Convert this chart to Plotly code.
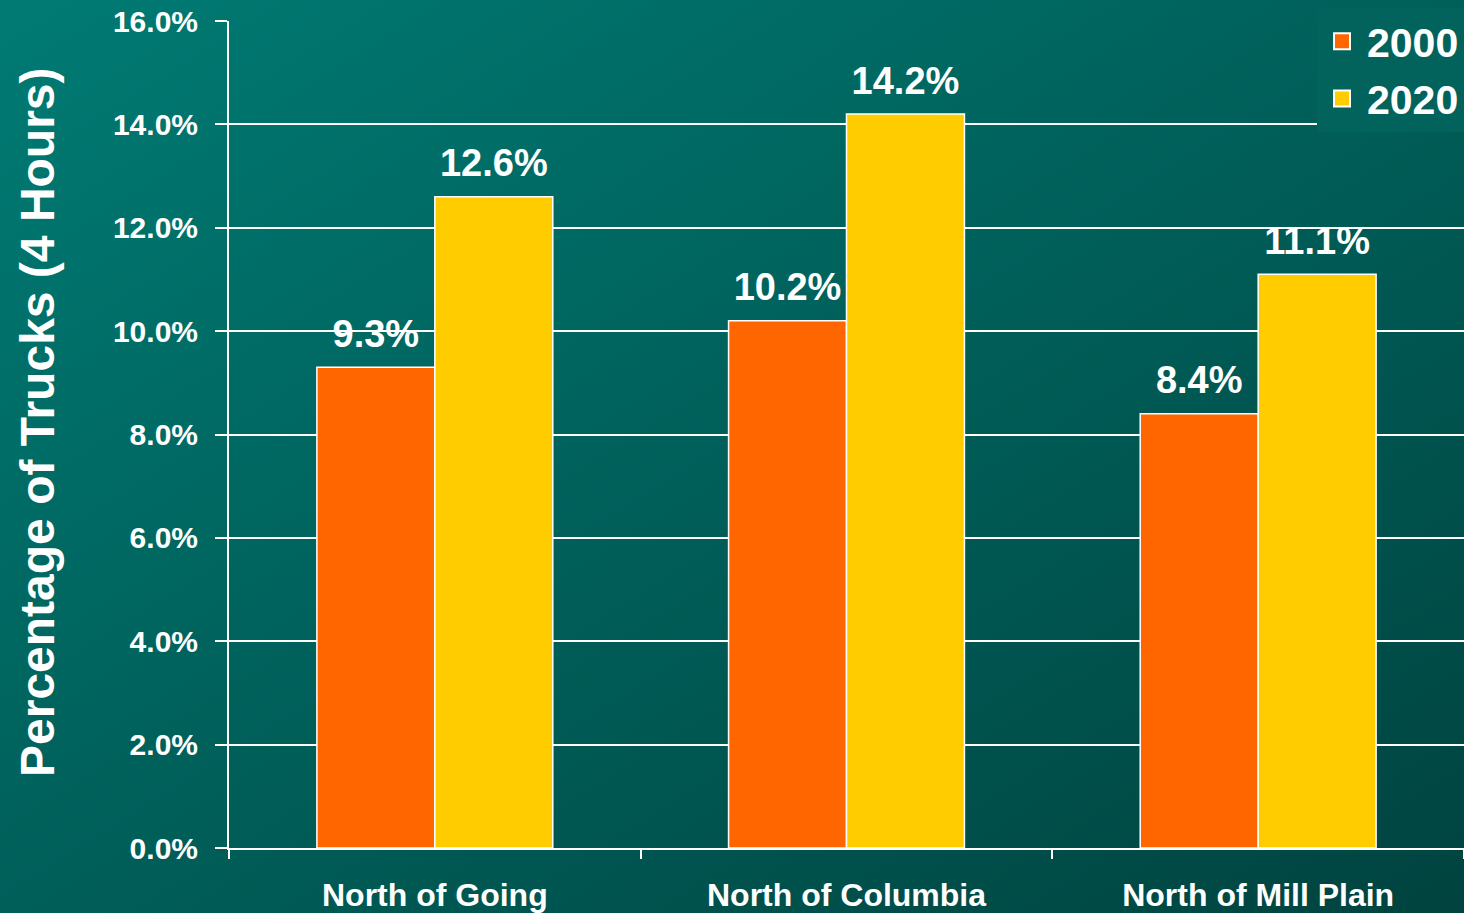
import plotly.graph_objects as go

categories = ["North of Going", "North of Columbia", "North of Mill Plain"]
series_names = ["2000", "2020"]
values_2000 = [0.093, 0.102, 0.084]
values_2020 = [0.126, 0.142, 0.111]
y_ticks = [0.0, 0.02, 0.04, 0.06, 0.08, 0.10, 0.12, 0.14, 0.16]
y_title = "Percentage of Trucks (4 Hours)"

W, H = 1464, 913
L, R, T, B = 229, 0, 21, 65
FONT = "Liberation Sans, Arial, sans-serif"

colors = {"2000": "#FF6600", "2020": "#FFCC00"}

fig = go.Figure()
for name, vals in zip(series_names, [values_2000, values_2020]):
    fig.add_trace(go.Bar(
        x=categories, y=vals, name=name, showlegend=False, legendgroup=name,
        offsetgroup=name, alignmentgroup="a",
        marker=dict(color=colors[name], line=dict(color="white", width=1.5)),
        hovertemplate="%{x}<br>" + name + ": %{y:.1%}<extra></extra>",
    ))
# value labels above bars
for name, vals in zip(series_names, [values_2000, values_2020]):
    fig.add_trace(go.Scatter(
        x=categories, y=vals, mode="markers+text", showlegend=False,
        offsetgroup=name, alignmentgroup="a",
        marker=dict(size=16, opacity=0),
        texttemplate="%{y:.1%}", textposition="top center",
        textfont=dict(family=FONT, size=38, color="white", weight="bold"),
        cliponaxis=False, hoverinfo="skip",
    ))
# legend entries with square swatches
for name in series_names:
    fig.add_trace(go.Scatter(
        x=[None], y=[None], mode="markers", name=name, legendgroup=name,
        marker=dict(symbol="square", size=24, color=colors[name],
                    line=dict(color="white", width=2)),
    ))

svg = ("data:image/svg+xml;utf8,"
       "<svg xmlns='http://www.w3.org/2000/svg' width='1464' height='913' preserveAspectRatio='none'>"
       "<defs><linearGradient id='g' x1='0' y1='0' x2='1' y2='1'>"
       "<stop offset='0' stop-color='%23007B74'/><stop offset='1' stop-color='%2300433F'/>"
       "</linearGradient></defs><rect width='1464' height='913' fill='url(%23g)'/></svg>")

pw = W - L - R
ph = H - T - B
fig.add_layout_image(dict(
    source=svg, xref="paper", yref="paper",
    x=-L / pw, y=1 + T / ph, sizex=W / pw, sizey=H / ph,
    xanchor="left", yanchor="top", sizing="stretch", layer="below",
))

fig.update_layout(
    width=W, height=H,
    margin=dict(l=L, r=R, t=T, b=B, autoexpand=False),
    paper_bgcolor="#006560", plot_bgcolor="rgba(0,0,0,0)",
    font=dict(family=FONT, color="white", weight="bold"),
    barmode="group", bargap=0.427, bargroupgap=0,
    scattermode="group", scattergap=0.427,
    showlegend=True,
    legend=dict(
        x=1, xanchor="right", y=1 + 13 / ph, yanchor="top",
        bgcolor="#02635D", borderwidth=0,
        font=dict(family=FONT, size=41, color="white", weight="bold"),
        tracegroupgap=1, itemwidth=40,
    ),
    annotations=[dict(
        text=y_title, textangle=-90, xref="paper", yref="paper",
        x=(37 - L) / pw, y=(H - B - 422) / ph, xanchor="center", yanchor="middle",
        showarrow=False, font=dict(family=FONT, size=48, color="white", weight="bold"),
    )],
)

fig.update_yaxes(
    range=[0, 0.16], tickvals=y_ticks, tickformat=".1%",
    showgrid=True, gridcolor="white", gridwidth=2,
    showline=True, linecolor="white", linewidth=2,
    ticks="outside", ticklen=12, tickcolor="white", tickwidth=2,
    tickfont=dict(family=FONT, size=30, color="white", weight="bold"),
    zeroline=False, ticklabelstandoff=11,
)
fig.update_xaxes(
    range=[-0.5, 2.5], showline=True, linecolor="white", linewidth=2,
    ticks="outside", tickson="boundaries", ticklen=9, tickcolor="white", tickwidth=2,
    tickfont=dict(family=FONT, size=32, color="white", weight="bold"),
    showgrid=False, ticklabelstandoff=18,
)

fig.write_html(
    "out.html",
    config={"displayModeBar": False},
    post_script="document.body.style.margin='0';document.body.style.overflow='hidden';",
)
